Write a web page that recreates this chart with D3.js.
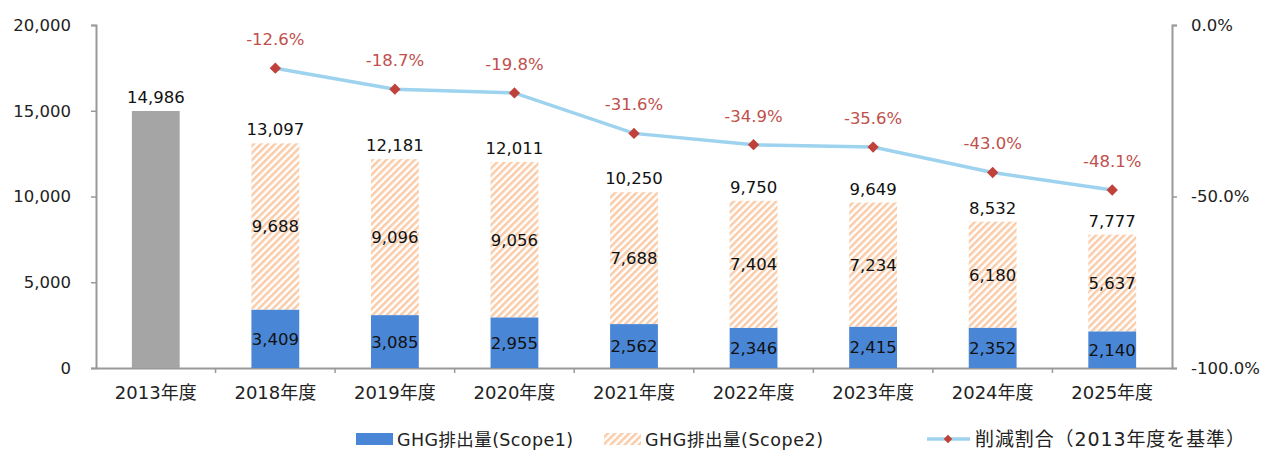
<!DOCTYPE html>
<html>
<head>
<meta charset="utf-8">
<script src="https://cdn.jsdelivr.net/npm/d3@7"></script>
<style>
  body { margin: 0; background: #fff; }
  svg text { font-family: "DejaVu Sans", "Noto Sans CJK JP", sans-serif; }
</style>
</head>
<body>
<script>
// data
var years = ["2013年度", "2018年度", "2019年度", "2020年度", "2021年度", "2022年度", "2023年度", "2024年度", "2025年度"];
var baseYear = [14986, null, null, null, null, null, null, null, null];
var scope1 = [null, 3409, 3085, 2955, 2562, 2346, 2415, 2352, 2140];
var scope2 = [null, 9688, 9096, 9056, 7688, 7404, 7234, 6180, 5637];
var totals = [14986, 13097, 12181, 12011, 10250, 9750, 9649, 8532, 7777];
var reduction = [null, -12.6, -18.7, -19.8, -31.6, -34.9, -35.6, -43.0, -48.1];
var leftTicks = [0, 5000, 10000, 15000, 20000];
var rightTicks = [0, -50, -100];

var width = 1264, height = 455;
var plotL = 96, plotR = 1172, plotT = 25, plotB = 368;
var fs = 16.5;

var svg = d3.select("body").append("svg")
  .attr("width", width)
  .attr("height", height);

var defs = svg.append("defs");
var hatch = defs.append("pattern")
  .attr("id", "hatch")
  .attr("patternUnits", "userSpaceOnUse")
  .attr("width", 5)
  .attr("height", 5)
  .attr("patternTransform", "rotate(45)");
hatch.append("rect").attr("width", 5).attr("height", 5).attr("fill", "#fff");
hatch.append("rect").attr("width", 2.5).attr("height", 5).attr("fill", "#f9cba8");

var x = d3.scaleBand().domain(years).range([plotL, plotR]).paddingInner(0.6).paddingOuter(0.3);
var xb = d3.scaleBand().domain(years).range([plotL, plotR]);
var y = d3.scaleLinear().domain([0, 20000]).range([plotB, plotT]);
var y2 = d3.scaleLinear().domain([-100, 0]).range([plotB, plotT]);
var fmt = d3.format(",");

// axes
var gl = svg.append("g").attr("transform", "translate(" + plotL + ",0)")
  .call(d3.axisLeft(y).tickValues(leftTicks).tickFormat(fmt).tickSize(5).tickPadding(20));
var gr = svg.append("g").attr("transform", "translate(" + plotR + ",0)")
  .call(d3.axisRight(y2).tickValues(rightTicks).tickFormat(function (d) { return d.toFixed(1) + "%"; }).tickSize(5).tickPadding(14));
var gx = svg.append("g").attr("transform", "translate(0," + plotB + ")")
  .call(d3.axisBottom(xb).tickSize(0).tickPadding(18));
gx.selectAll(".tick line").remove();
gx.selectAll(".xt").data(years.slice(1)).enter().append("line")
  .attr("x1", function (d) { return xb(d); })
  .attr("x2", function (d) { return xb(d); })
  .attr("y1", 0).attr("y2", 5)
  .attr("stroke", "#999").attr("stroke-width", 1.5);
[gl, gr, gx].forEach(function (g) {
  g.select(".domain").attr("stroke", "#999").attr("stroke-width", 2);
  g.selectAll(".tick line").attr("stroke", "#999").attr("stroke-width", 1.5);
  g.selectAll("text").attr("font-size", fs).attr("fill", "#222");
});
gx.selectAll("text").attr("font-size", 18);

// bars
var bars = svg.append("g");
bars.selectAll(".base").data(years.filter(function (d, i) { return baseYear[i] != null; })).enter().append("rect")
  .attr("x", function (d) { return x(d); })
  .attr("y", function (d) { return y(baseYear[years.indexOf(d)]); })
  .attr("width", x.bandwidth())
  .attr("height", function (d) { return plotB - y(baseYear[years.indexOf(d)]); })
  .attr("fill", "#a5a5a5");

var idx = d3.range(1, years.length);
bars.selectAll(".s1").data(idx).enter().append("rect")
  .attr("x", function (i) { return x(years[i]); })
  .attr("y", function (i) { return y(scope1[i]); })
  .attr("width", x.bandwidth())
  .attr("height", function (i) { return plotB - y(scope1[i]); })
  .attr("fill", "#4a86d6");
bars.selectAll(".s2").data(idx).enter().append("rect")
  .attr("x", function (i) { return x(years[i]); })
  .attr("y", function (i) { return y(scope1[i] + scope2[i]); })
  .attr("width", x.bandwidth())
  .attr("height", function (i) { return y(scope1[i]) - y(scope1[i] + scope2[i]); })
  .attr("fill", "url(#hatch)");

// bar labels
var lab = svg.append("g").attr("font-size", fs).attr("fill", "#111").attr("text-anchor", "middle");
lab.selectAll(".tot").data(totals).enter().append("text")
  .attr("x", function (d, i) { return x(years[i]) + x.bandwidth() / 2; })
  .attr("y", function (d) { return y(d) - 8; })
  .text(function (d) { return fmt(d); });
lab.selectAll(".l1").data(idx).enter().append("text")
  .attr("x", function (i) { return x(years[i]) + x.bandwidth() / 2; })
  .attr("y", function (i) { return y(scope1[i] / 2) + 6; })
  .text(function (i) { return fmt(scope1[i]); });
lab.selectAll(".l2").data(idx).enter().append("text")
  .attr("x", function (i) { return x(years[i]) + x.bandwidth() / 2; })
  .attr("y", function (i) { return y(scope1[i] + scope2[i] / 2) + 6; })
  .text(function (i) { return fmt(scope2[i]); });

// reduction line
var cx = function (i) { return xb(years[i]) + xb.bandwidth() / 2; };
var line = d3.line()
  .x(function (i) { return cx(i); })
  .y(function (i) { return y2(reduction[i]); });
var diamond = d3.symbol().type(d3.symbolSquare).size(64);
svg.append("path")
  .attr("d", line(idx))
  .attr("fill", "none")
  .attr("stroke", "#9dd3ee")
  .attr("stroke-width", 3.5);
svg.selectAll(".pt").data(idx).enter().append("path")
  .attr("d", diamond)
  .attr("transform", function (i) { return "translate(" + cx(i) + "," + y2(reduction[i]) + ") rotate(45)"; })
  .attr("fill", "#c0403a");
svg.selectAll(".pl").data(idx).enter().append("text")
  .attr("x", function (i) { return cx(i); })
  .attr("y", function (i) { return y2(reduction[i]) - 23; })
  .attr("text-anchor", "middle")
  .attr("font-size", fs)
  .attr("fill", "#c0504d")
  .text(function (i) { return reduction[i].toFixed(1) + "%"; });

// legend
var leg = svg.append("g").attr("font-size", 17.5).attr("fill", "#222");
leg.append("rect").attr("x", 356).attr("y", 433).attr("width", 37).attr("height", 12).attr("fill", "#4a86d6");
leg.append("text").attr("x", 397).attr("y", 446).attr("textLength", 176).attr("lengthAdjust", "spacing").text("GHG排出量(Scope1)");
leg.append("rect").attr("x", 604).attr("y", 433).attr("width", 37).attr("height", 12).attr("fill", "url(#hatch)");
leg.append("text").attr("x", 645).attr("y", 446).attr("textLength", 178).attr("lengthAdjust", "spacing").text("GHG排出量(Scope2)");
leg.append("line").attr("x1", 927).attr("x2", 970).attr("y1", 439).attr("y2", 439)
  .attr("stroke", "#9dd3ee").attr("stroke-width", 3.5);
leg.append("path").attr("d", d3.symbol().type(d3.symbolSquare).size(36))
  .attr("transform", "translate(948,439) rotate(45)").attr("fill", "#c0403a");
leg.append("text").attr("x", 975).attr("y", 446).attr("font-size", 19).attr("textLength", 270).attr("lengthAdjust", "spacing").text("削減割合（2013年度を基準）");
</script>
</body>
</html>
